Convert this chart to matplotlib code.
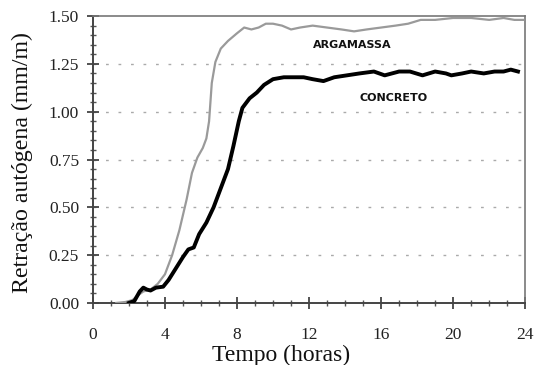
import matplotlib
matplotlib.use("Agg")
import matplotlib.pyplot as plt
from matplotlib.ticker import MultipleLocator

# Data (time in hours, shrinkage in mm/m)
ARG_T = [1.3, 1.8, 2.2, 2.5, 2.8, 3.2, 3.6, 4.0, 4.4, 4.8, 5.2, 5.5, 5.8, 6.1,
         6.3, 6.45, 6.6, 6.8, 7.1, 7.5, 8.0, 8.4, 8.8, 9.2, 9.6, 10.0, 10.5,
         11.0, 11.5, 12.2, 13.0, 13.8, 14.5, 15.2, 16.0, 16.8, 17.5, 18.2,
         19.0, 20.0, 21.0, 22.0, 22.8, 23.4, 23.9]
ARG_V = [0.0, 0.005, 0.015, 0.04, 0.06, 0.07, 0.1, 0.15, 0.25, 0.38, 0.54,
         0.68, 0.76, 0.81, 0.86, 0.95, 1.15, 1.26, 1.33, 1.37, 1.41, 1.44,
         1.43, 1.44, 1.46, 1.46, 1.45, 1.43, 1.44, 1.45, 1.44, 1.43, 1.42,
         1.43, 1.44, 1.45, 1.46, 1.48, 1.48, 1.49, 1.49, 1.48, 1.49, 1.48,
         1.48]

CON_T = [2.0, 2.3, 2.6, 2.8, 3.0, 3.2, 3.5, 3.9, 4.2, 4.6, 5.0, 5.3, 5.6,
         5.9, 6.3, 6.7, 7.1, 7.5, 7.8, 8.1, 8.3, 8.7, 9.1, 9.5, 10.0, 10.6,
         11.2, 11.7, 12.2, 12.8, 13.4, 14.1, 14.8, 15.6, 16.2, 17.0, 17.6,
         18.3, 19.0, 19.6, 19.9, 20.5, 21.0, 21.7, 22.3, 22.8, 23.2, 23.6]
CON_V = [0.0, 0.01, 0.06, 0.08, 0.07, 0.065, 0.08, 0.085, 0.12, 0.18, 0.24,
         0.28, 0.29, 0.36, 0.42, 0.50, 0.60, 0.70, 0.82, 0.95, 1.02, 1.07,
         1.10, 1.14, 1.17, 1.18, 1.18, 1.18, 1.17, 1.16, 1.18, 1.19, 1.20,
         1.21, 1.19, 1.21, 1.21, 1.19, 1.21, 1.20, 1.19, 1.20, 1.21, 1.20,
         1.21, 1.21, 1.22, 1.21]

X_TICKS = [0, 4, 8, 12, 16, 20, 24]
Y_TICKS = [0.0, 0.25, 0.5, 0.75, 1.0, 1.25, 1.5]

SERIF = "Liberation Serif"

fig = plt.figure(figsize=(5.37, 3.65), dpi=100)
ax = fig.add_axes([0.173, 0.170, 0.805, 0.786])

# dotted horizontal grid
for y in Y_TICKS[1:-1]:
    ax.axhline(y, color="#aaaaaa", lw=1.0, ls=(0, (2, 7)), zorder=1)

ax.plot(ARG_T, ARG_V, color="#9a9a9a", lw=1.6, zorder=3)
ax.plot(CON_T, CON_V, color="black", lw=2.8, zorder=4)

ax.text(14.4, 1.35, "ARGAMASSA", fontsize=8, fontweight="bold",
        ha="center", va="center", color="#111111")
ax.text(16.7, 1.07, "CONCRETO", fontsize=8, fontweight="bold",
        ha="center", va="center", color="#111111")

ax.set_xlim(0, 24)
ax.set_ylim(0, 1.5)
ax.set_xticks(X_TICKS)
ax.set_yticks(Y_TICKS)
ax.set_yticklabels([f"{v:.2f}" for v in Y_TICKS])
ax.xaxis.set_minor_locator(MultipleLocator(1))
ax.yaxis.set_minor_locator(MultipleLocator(0.05))

ax.tick_params(which="major", direction="inout", length=8, width=1.3,
               color="#444444", labelsize=12.5, labelcolor="#222222")
ax.tick_params(which="minor", direction="inout", length=5, width=1.0,
               color="#555555")
ax.tick_params(axis="x", which="major", pad=13)
ax.tick_params(axis="y", which="major", pad=6)
for lab in ax.get_xticklabels() + ax.get_yticklabels():
    lab.set_family(SERIF)

for side in ["left", "bottom"]:
    ax.spines[side].set_color("#444444")
    ax.spines[side].set_linewidth(1.4)
for side in ["top", "right"]:
    ax.spines[side].set_color("#777777")
    ax.spines[side].set_linewidth(1.2)

ax.set_ylabel("Retração autógena (mm/m)", family=SERIF, fontsize=17.2,
              color="#111111")
ax.set_xlabel("Tempo (horas)", family=SERIF, fontsize=17, color="#111111")
ax.yaxis.set_label_coords(-0.138, 0.49)
ax.xaxis.set_label_coords(0.435, -0.145)

fig.savefig("out.png", dpi=100)
